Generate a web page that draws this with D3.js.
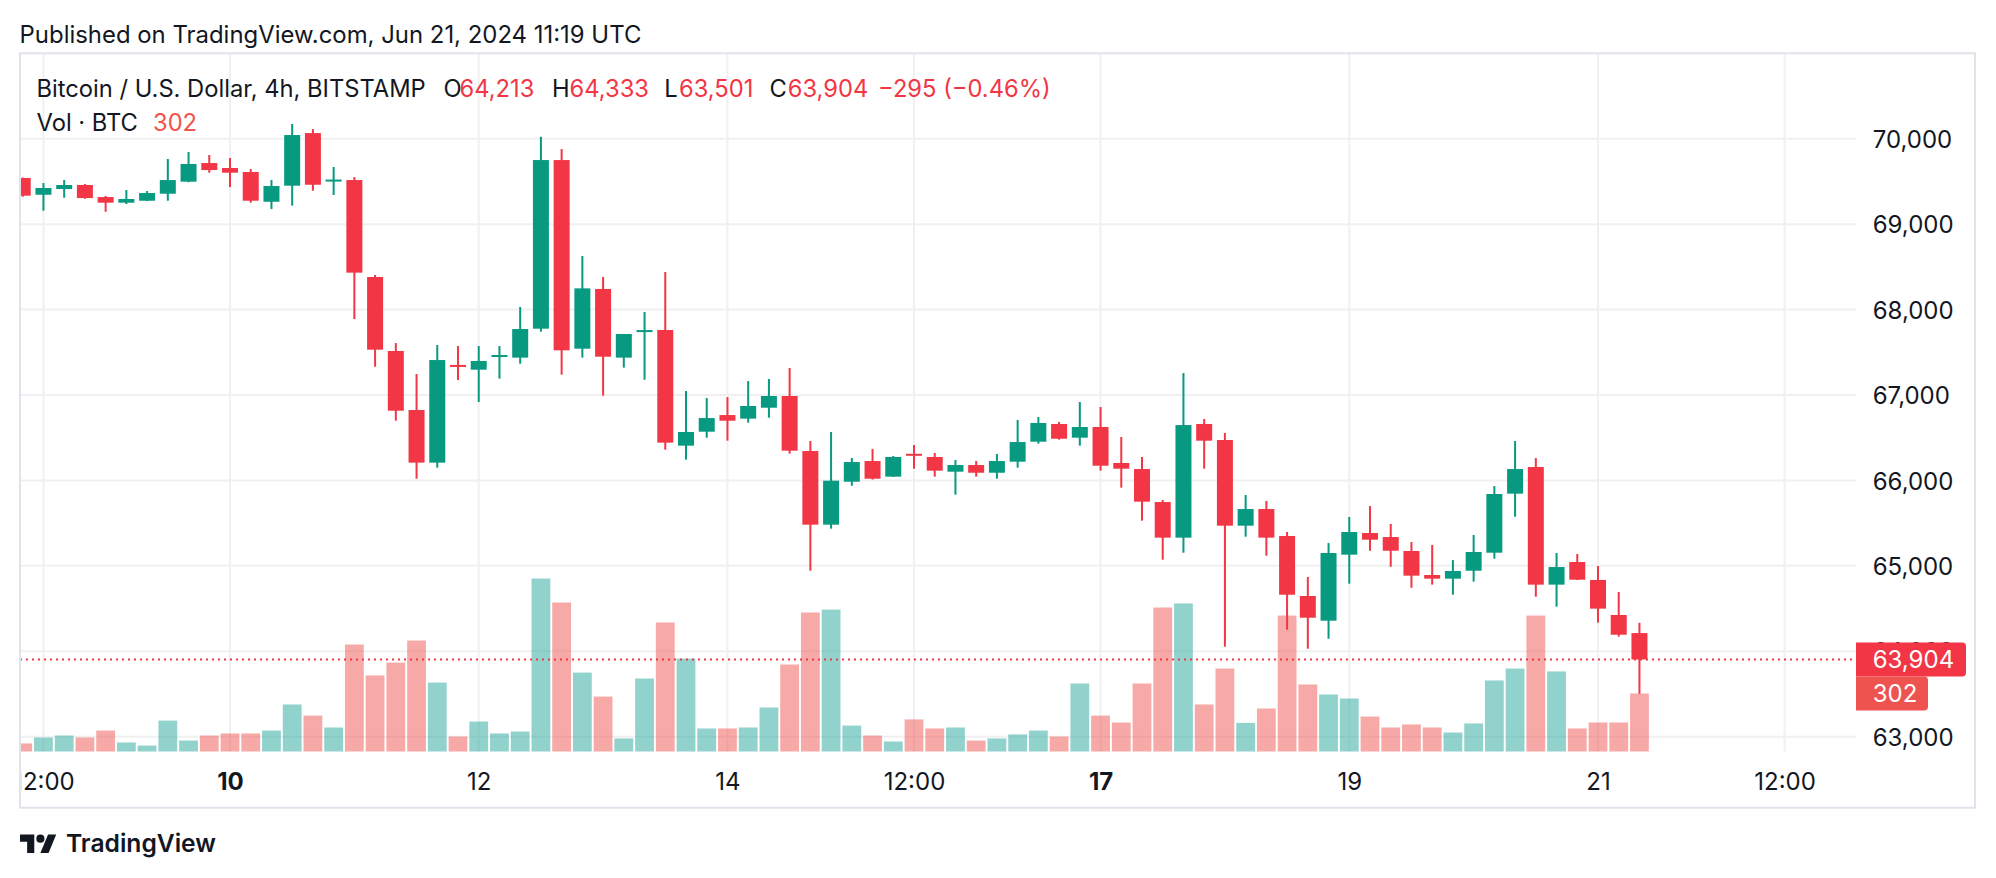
<!DOCTYPE html>
<html><head><meta charset="utf-8">
<script src="https://cdn.jsdelivr.net/npm/d3@7"></script>
<style>
html,body{margin:0;padding:0;background:#fff;}
svg{display:block;}
text{font-family:Inter,"Noto Sans",sans-serif;}
</style></head><body>
<svg id="chart" width="1996" height="878"></svg>
<script>
// ---- data (BTC/USD, Bitstamp, 4h candles starting 2024-06-08 08:00 UTC) ----
const firstCandle = "2024-06-08T08:00:00Z";
const open  = [69540,69344,69411,69458,69317,69251,69274,69356,69497,69715,
  69657,69610,69262,69450,70066,69495,69516,68381,67515,66824,
  66208,67340,67296,67440,67437,67776,69750,67542,68241,67437,
  67725,67761,66407,66570,66765,66723,66851,66988,66344,65482,
  65985,66227,66044,66300,66274,66102,66180,66090,66219,66453,
  66660,66500,66625,66204,66133,65747,65330,66660,66473,65470,
  65665,65349,64647,64358,65131,65384,65337,65174,64893,64850,
  64943,65154,65845,66157,64780,65045,64834,64425,64213];
const high  = [69545,69481,69516,69469,69329,69399,69387,69762,69844,69809,
  69774,69645,69516,70172,70113,69669,69551,68404,67608,67245,
  67585,67573,67573,67573,68030,70023,69879,68627,68381,67714,
  67971,68439,67046,66964,66976,67163,67187,67316,66461,66567,
  66262,66368,66286,66414,66321,66239,66227,66309,66707,66742,
  66684,66918,66859,66508,66274,65771,67257,66719,66555,65829,
  65759,65396,64869,65267,65572,65700,65490,65279,65244,65068,
  65361,65934,66461,66262,65150,65139,64998,64694,64333];
const low   = [69321,69157,69309,69297,69145,69235,69270,69274,69490,69602,
  69434,69251,69177,69216,69391,69341,67889,67331,66699,66020,
  66149,67175,66918,67191,67366,67741,67238,67437,66992,67320,
  67179,66360,66243,66500,66465,66676,66734,66313,64943,65435,
  65938,66010,66040,66137,66044,65833,66044,66020,66149,66430,
  66477,66407,66114,65915,65529,65072,65154,66137,64054,65341,
  65119,64253,64030,64147,64791,65177,64990,64744,64780,64662,
  64815,65084,65575,64639,64522,64835,64335,64171,63501];
const close = [69333,69423,69458,69305,69251,69294,69364,69516,69704,69633,
  69602,69274,69446,70043,69461,69510,68432,67530,66816,66208,
  67409,67322,67398,67456,67772,69750,67523,68248,67448,67714,
  67748,66442,66567,66730,66699,66871,66988,66348,65482,65997,
  66215,66020,66274,66280,66114,66180,66090,66227,66449,66672,
  66488,66625,66172,66137,65751,65330,66648,66465,65470,65665,
  65330,64662,64393,65150,65396,65306,65177,64885,64850,64940,
  65162,65841,66133,64780,64986,64838,64499,64194,63904];
const volume = [42,73,83,73,109,47,31,161,57,83,
  94,94,109,245,187,125,557,396,463,578,
  359,78,156,94,104,901,776,411,286,68,
  380,672,484,120,120,125,229,453,724,739,
  135,83,52,167,120,125,57,68,89,109,
  78,354,187,151,354,750,771,245,432,149,
  224,708,349,297,276,182,125,141,125,99,
  146,370,432,708,417,120,151,151,302];
const priceTicks = [63000,64000,65000,66000,67000,68000,69000,70000];
const timeTicks  = ["2024-06-08T12:00:00Z","2024-06-10T00:00:00Z","2024-06-12T00:00:00Z",
  "2024-06-14T00:00:00Z","2024-06-15T12:00:00Z","2024-06-17T00:00:00Z",
  "2024-06-19T00:00:00Z","2024-06-21T00:00:00Z","2024-06-22T12:00:00Z"];
const timeLabels = ["12:00","10","12","14","12:00","17","19","21","12:00"];
const boldLabels = ["10","17"];
const titleText = "Published on TradingView.com, Jun 21, 2024 11:19 UTC";
const symbolText = "Bitcoin / U.S. Dollar, 4h, BITSTAMP";
const changeText = "\u2212295 (\u22120.46%)";

// ---- layout ----
const UP="#089981", DOWN="#f23645", VUP="rgba(38,166,154,0.5)", VDOWN="rgba(239,83,80,0.5)";
const INK="#131722";
const frame={l:20,t:53.3,r:1975,b:807.7};
const pane={l:20,r:1856,t:53.3,b:752};

const svg=d3.select("#chart");
const step=4*3600*1000, t0=new Date(firstCandle).getTime();
const times=open.map((_,i)=>new Date(t0+i*step));
const idx=d3.range(open.length);

const x=d3.scaleUtc().domain([new Date("2024-06-10T00:00:00Z"),new Date("2024-06-21T00:00:00Z")]).range([230,1598]);
const y=d3.scaleLinear().domain([63000,70000]).range([736.7,138.7]);
const yv=d3.scaleLinear().domain([0,1000]).range([751.5,559.5]);

const defs=svg.append("defs");
defs.append("clipPath").attr("id","pane").append("rect")
  .attr("x",pane.l).attr("y",pane.t).attr("width",pane.r-pane.l).attr("height",pane.b-pane.t);
defs.append("clipPath").attr("id","frame").append("rect")
  .attr("x",frame.l).attr("y",frame.t).attr("width",frame.r-frame.l).attr("height",frame.b-frame.t);

// grid
const grid=svg.append("g").attr("clip-path","url(#pane)");
grid.selectAll("line.h").data(priceTicks).join("line")
  .attr("x1",pane.l).attr("x2",pane.r).attr("y1",d=>y(d)).attr("y2",d=>y(d))
  .attr("stroke","#f0f0f2").attr("stroke-width",2);
grid.selectAll("line.v").data(timeTicks).join("line")
  .attr("x1",d=>x(new Date(d))).attr("x2",d=>x(new Date(d))).attr("y1",pane.t).attr("y2",pane.b)
  .attr("stroke","#f0f0f2").attr("stroke-width",2);

const plot=svg.append("g").attr("clip-path","url(#pane)");
// volume
plot.selectAll("rect.vol").data(idx).join("rect")
  .attr("x",i=>x(times[i])-9.4).attr("width",18.8)
  .attr("y",i=>yv(volume[i])).attr("height",i=>yv(0)-yv(volume[i]))
  .attr("fill",i=>close[i]>=open[i]?VUP:VDOWN);
// wicks
plot.selectAll("rect.wick").data(idx).join("rect")
  .attr("x",i=>x(times[i])-1).attr("width",2)
  .attr("y",i=>y(high[i])).attr("height",i=>y(low[i])-y(high[i]))
  .attr("fill",i=>close[i]>=open[i]?UP:DOWN);
// bodies
plot.selectAll("rect.body").data(idx).join("rect")
  .attr("x",i=>x(times[i])-8).attr("width",16)
  .attr("y",i=>Math.min(y(open[i]),y(close[i]))-(Math.abs(y(open[i])-y(close[i]))<2?1:0))
  .attr("height",i=>Math.max(2,Math.abs(y(open[i])-y(close[i]))))
  .attr("fill",i=>close[i]>=open[i]?UP:DOWN);

// last price line
const last=close.length-1;
svg.append("line").attr("x1",pane.l).attr("x2",pane.r)
  .attr("y1",y(close[last])).attr("y2",y(close[last]))
  .attr("stroke",DOWN).attr("stroke-width",2).attr("stroke-dasharray","2 4");

// price axis
const yAxis=d3.axisRight(y).tickValues(priceTicks).tickFormat(d3.format(",")).tickSize(0).tickPadding(0);
const ya=svg.append("g").attr("transform","translate(1872.7,0)").call(yAxis);
ya.select(".domain").remove();
ya.selectAll("text").attr("font-size",24).attr("fill",INK).attr("font-family","Inter").attr("dy","0.36em");

// time axis
const xAxis=d3.axisBottom(x).tickValues(timeTicks.map(d=>new Date(d))).tickFormat((d,i)=>timeLabels[i]).tickSize(0).tickPadding(0);
const xa=svg.append("g").attr("clip-path","url(#frame)").append("g").attr("transform","translate(0,781.7)").call(xAxis);
xa.select(".domain").remove();
xa.selectAll("text").attr("y",0).attr("dy","0.36em").attr("font-size",24).attr("fill",INK)
  .attr("font-family","Inter").attr("font-weight",(d,i)=>boldLabels.includes(timeLabels[i])?700:400);

// price/volume tags
function tag(x0,y0,w,h,r){return `M${x0},${y0}H${x0+w-r}Q${x0+w},${y0} ${x0+w},${y0+r}V${y0+h-r}Q${x0+w},${y0+h} ${x0+w-r},${y0+h}H${x0}Z`;}
const py=y(close[last]);
svg.append("path").attr("d",tag(1856,py-17,110,34,4)).attr("fill",DOWN);
svg.append("text").attr("x",1872.7).attr("y",py).attr("dy","0.36em").attr("font-size",24).attr("fill","#fff")
  .text(d3.format(",")(close[last]));
const vy=yv(volume[last]);
svg.append("path").attr("d",tag(1856,vy-17,72,34,4)).attr("fill","#ef5350");
svg.append("text").attr("x",1872.7).attr("y",vy).attr("dy","0.36em").attr("font-size",24).attr("fill","#fff")
  .text(volume[last]);

// frame
svg.append("rect").attr("x",frame.l).attr("y",frame.t).attr("width",frame.r-frame.l).attr("height",frame.b-frame.t)
  .attr("fill","none").attr("stroke","#e0e3eb").attr("stroke-width",2);

// texts
function fit(sel,target){const w=sel.node().getComputedTextLength();const fs=parseFloat(sel.attr("font-size"));sel.attr("font-size",fs*target/w);return fs*target/w;}
const title=svg.append("text").attr("x",19.6).attr("y",43.3).attr("font-size",21).attr("fill",INK).text(titleText);
fit(title,622);

const sym=svg.append("text").attr("x",36.5).attr("y",96.7).attr("font-size",20).attr("fill",INK).text(symbolText);
const hfs=fit(sym,389.5);
const fmt=d3.format(",");
const pieces=[
  {t:"O",x:443.4,c:INK},{t:fmt(open[last]),x:459.5,c:DOWN},
  {t:"H",x:552,c:INK},{t:fmt(high[last]),x:569.6,c:DOWN},
  {t:"L",x:664.3,c:INK},{t:fmt(low[last]),x:679,c:DOWN},
  {t:"C",x:769.6,c:INK},{t:fmt(close[last]),x:787.8,c:DOWN},
  {t:changeText,x:878,c:DOWN}];
svg.selectAll("text.hp").data(pieces).join("text").attr("class","hp")
  .attr("x",d=>d.x).attr("y",96.7).attr("font-size",hfs).attr("fill",d=>d.c).text(d=>d.t);
const vol=svg.append("text").attr("x",36.5).attr("y",130.7).attr("font-size",hfs).attr("fill",INK).text("Vol \u00b7 BTC");
svg.append("text").attr("x",153).attr("y",130.7).attr("font-size",hfs).attr("fill","#ef5350").text(volume[last]);

// TradingView logo
const logo=svg.append("g").attr("transform","translate(20,830.5) scale(1.02)").attr("fill",INK);
logo.append("path").attr("d","M14 22H7V11H0V4h14v18z");
logo.append("circle").attr("cx",20).attr("cy",8).attr("r",4);
logo.append("path").attr("d","M28 22h-8l7.5-18h8L28 22z");
const tv=svg.append("text").attr("x",66).attr("y",851.7).attr("font-size",23).attr("font-weight",600).attr("fill",INK).text("TradingView");
fit(tv,150);
</script>
</body></html>
